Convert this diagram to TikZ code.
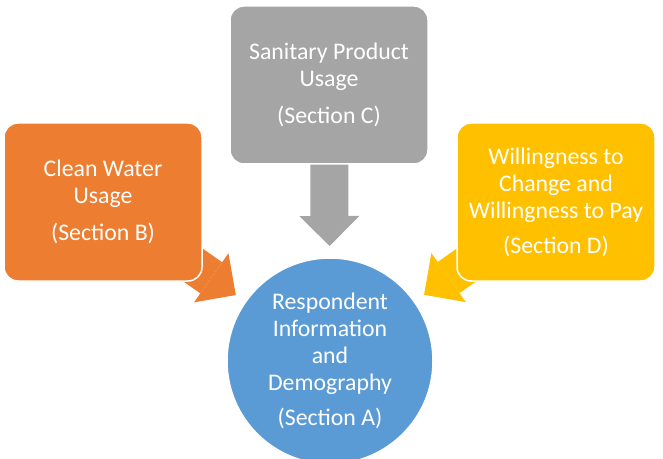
\documentclass[tikz,border=0pt]{standalone}
\usepackage{fontspec}
\setmainfont{Carlito}
\usetikzlibrary{arrows.meta,calc,backgrounds}
\definecolor{cOrange}{HTML}{ED7D31}
\definecolor{cGray}{HTML}{A5A5A5}
\definecolor{cYellow}{HTML}{FFC000}
\definecolor{cBlue}{HTML}{5B9BD5}
\begin{document}
\begin{tikzpicture}[x=1pt,y=1pt,
  box/.style={rounded corners=14pt, draw=white, line width=1.5pt,
    minimum width=198pt, minimum height=158pt, text=white, align=center,
    font=\fontsize{23.8}{27}\selectfont, inner sep=0pt},
  hub/.style={circle, fill=cBlue, draw=white, line width=1.5pt,
    minimum size=206pt, text=white, align=center,
    font=\fontsize{23.8}{27}\selectfont, inner sep=0pt},
  blockarrow/.style={line width=38pt,
    -{Triangle[length=30pt,width=60pt,line width=0pt]}}
]
\useasboundingbox (0,0) rectangle (663,458);
\node[box, fill=cGray] (C) at (329,373) {Sanitary Product\\Usage\\[10pt](Section C)};
\node[box, fill=cOrange] (B) at (103,256) {Clean Water\\Usage\\[10pt](Section B)};
\node[box, fill=cYellow] (D) at (556,256) {Willingness to\\Change and\\Willingness to Pay\\[8pt](Section D)};
\node[hub] (A) at (330,97) {Respondent\\Information\\and\\Demography\\[8pt](Section A)};
\coordinate (tC) at ($(A.center)!115pt!(C.center)$);
\coordinate (tB) at ($(A.center)!115pt!(B.center)$);
\coordinate (tD) at ($(A.center)!115pt!(D.center)$);
\begin{pgfonlayer}{background}
\draw[blockarrow, cGray] (C.center) -- (tC);
\draw[blockarrow, cOrange] (B.center) -- (tB);
\draw[blockarrow, cYellow] (D.center) -- (tD);
\end{pgfonlayer}
\end{tikzpicture}
\end{document}
